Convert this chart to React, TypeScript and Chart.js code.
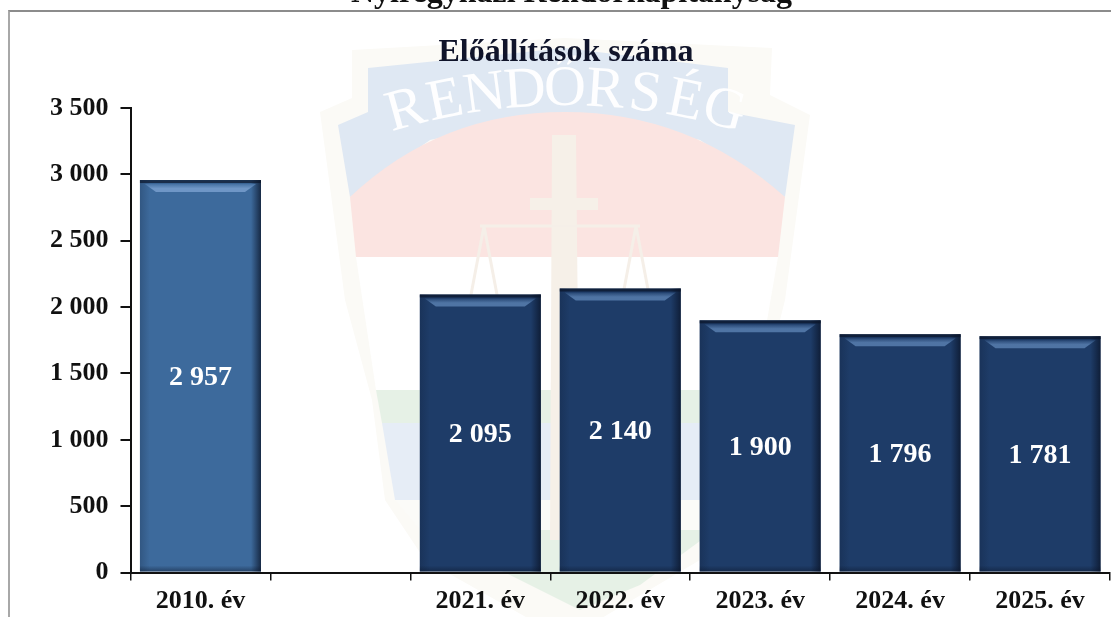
import React, { useEffect, useRef } from "react";
import { Chart, registerables } from "chart.js";

Chart.register(...registerables);

const categories = ["2010. év", "", "2021. év", "2022. év", "2023. év", "2024. év", "2025. év"];
const values: (number | null)[] = [2957, null, 2095, 2140, 1900, 1796, 1781];
const barColors = ["#3d6a9c", "", "#1e3c68", "#1e3c68", "#1e3c68", "#1e3c68", "#1e3c68"];
const barTopColors = ["#6f96c6", "", "#4f74a4", "#4f74a4", "#4f74a4", "#4f74a4", "#4f74a4"];
const chartTitle = "Előállítások száma";
const pageTitle = "Nyíregyházi Rendőrkapitányság";
const fmt = (v: number) => String(v).replace(/\B(?=(\d{3})+$)/g, " ");
const serif = "'Liberation Serif'";

const watermark = {
  id: "watermark",
  beforeDraw(chart: any) {
    const c = chart.ctx;
    c.save();
    const poly = (pts: number[][], fill: string) => {
      c.beginPath();
      pts.forEach((p, i) => (i ? c.lineTo(p[0], p[1]) : c.moveTo(p[0], p[1])));
      c.closePath();
      c.fillStyle = fill;
      c.fill();
    };
    poly([[320, 112], [352, 98], [352, 50], [565, 38], [772, 48], [770, 95], [810, 115], [785, 300], [760, 400], [740, 500], [700, 560], [590, 625], [540, 625], [425, 560], [385, 500], [372, 400], [345, 300]], "#fbfaf6");
    poly([[338, 125], [368, 112], [368, 68], [565, 48], [728, 68], [728, 112], [795, 125], [785, 197], [700, 140], [565, 112], [430, 140], [350, 197]], "#dfe8f3");
    c.beginPath();
    c.moveTo(350, 197);
    c.quadraticCurveTo(440, 112, 565, 112);
    c.quadraticCurveTo(690, 112, 785, 197);
    c.lineTo(778, 257);
    c.lineTo(356, 257);
    c.closePath();
    c.fillStyle = "#fbe4e1";
    c.fill();
    poly([[356, 257], [778, 257], [755, 390], [376, 390]], "#ffffff");
    poly([[376, 390], [755, 390], [748, 423], [382, 423]], "#e6f1e6");
    poly([[382, 423], [748, 423], [735, 500], [395, 500]], "#e6edf6");
    poly([[395, 500], [735, 500], [715, 530], [420, 530]], "#fbfbf8");
    poly([[420, 530], [715, 530], [640, 585], [580, 610], [530, 585]], "#e6f1e6");
    poly([[552, 135], [576, 135], [580, 540], [550, 540]], "#f6f0e8");
    poly([[530, 198], [598, 198], [598, 210], [530, 210]], "#f6f0e8");
    c.strokeStyle = "#f5efe8";
    c.lineWidth = 3;
    c.beginPath();
    c.moveTo(480, 226); c.lineTo(640, 226);
    c.moveTo(484, 226); c.lineTo(470, 300);
    c.moveTo(484, 226); c.lineTo(498, 300);
    c.moveTo(636, 226); c.lineTo(622, 300);
    c.moveTo(636, 226); c.lineTo(650, 300);
    c.stroke();
    c.translate(565, 690);
    c.font = "58px " + serif;
    c.fillStyle = "rgba(255,255,255,0.95)";
    c.textAlign = "center";
    c.textBaseline = "middle";
    const word = "RENDŐRSÉG";
    const R = 600;
    const step = 0.067;
    [...word].forEach((ch, i) => {
      const a = (i - (word.length - 1) / 2) * step;
      c.save();
      c.rotate(a);
      c.fillText(ch, 0, -R);
      c.restore();
    });
    c.restore();
  },
};

const bevelBars = {
  id: "bevelBars",
  afterDatasetsDraw(chart: any) {
    const c = chart.ctx;
    const meta = chart.getDatasetMeta(0);
    meta.data.forEach((bar: any, i: number) => {
      const v = values[i];
      if (v == null) return;
      const hw = bar.width / 2;
      const l = bar.x - hw, r = bar.x + hw, t = bar.y, b = bar.base;
      const inset = 10;
      c.save();
      const side = c.createLinearGradient(r - inset, 0, r, 0);
      side.addColorStop(0, "rgba(10,20,40,0)");
      side.addColorStop(1, "rgba(10,20,40,0.75)");
      c.fillStyle = side;
      c.fillRect(r - inset, t, inset, b - t);
      const lg = c.createLinearGradient(l, 0, l + inset, 0);
      lg.addColorStop(0, "rgba(10,20,40,0.22)");
      lg.addColorStop(1, "rgba(10,20,40,0)");
      c.fillStyle = lg;
      c.fillRect(l, t, inset, b - t);
      c.beginPath();
      c.moveTo(l + 5, t + 4);
      c.lineTo(r - 5, t + 4);
      c.lineTo(r - 16, t + 12);
      c.lineTo(l + 16, t + 12);
      c.closePath();
      const hi = c.createLinearGradient(0, t + 3, 0, t + 12);
      hi.addColorStop(0, barColors[i]);
      hi.addColorStop(0.6, barTopColors[i]);
      hi.addColorStop(1, barTopColors[i]);
      c.fillStyle = hi;
      c.fill();
      c.fillStyle = "rgba(10,20,40,0.7)";
      c.fillRect(l, t, r - l, 3);
      const bot = c.createLinearGradient(0, b - 6, 0, b);
      bot.addColorStop(0, "rgba(10,20,40,0)");
      bot.addColorStop(1, "rgba(10,20,40,0.45)");
      c.fillStyle = bot;
      c.fillRect(l, b - 6, r - l, 6);
      c.fillStyle = "#ffffff";
      c.font = "bold 28px " + serif;
      c.textAlign = "center";
      c.textBaseline = "middle";
      c.fillText(fmt(v), bar.x, (t + b) / 2 + 2);
      c.restore();
    });
  },
};

export default function App() {
  const ref = useRef<HTMLCanvasElement>(null);
  useEffect(() => {
    document.body.style.margin = "0";
    const chart = new Chart(ref.current as HTMLCanvasElement, {
      type: "bar",
      data: {
        labels: categories,
        datasets: [{ data: values as any, backgroundColor: barColors, barPercentage: 1, categoryPercentage: 0.865 }],
      },
      plugins: [watermark, bevelBars],
      options: {
        responsive: false,
        animation: false,
        layout: { padding: { left: 22, right: 1, top: 0, bottom: 0 } },
        plugins: {
          legend: { display: false },
          tooltip: { enabled: false },
          title: {
            display: true,
            text: chartTitle,
            color: "#10142a",
            font: { family: serif, size: 32, weight: "bold", lineHeight: 1 },
            padding: { top: 37, bottom: 39 },
          },
        },
        scales: {
          x: {
            offset: true,
            afterFit: (s: any) => { s.height = 44.5; },
            grid: { display: true, offset: true, drawOnChartArea: false, color: "#111", tickLength: 8, lineWidth: 1.5 },
            border: { display: true, color: "#111", width: 2 },
            ticks: { color: "#111", font: { family: serif, size: 26, weight: "bold" }, padding: 5, maxRotation: 0, autoSkip: false },
          },
          y: {
            min: 0,
            max: 3500,
            afterFit: (s: any) => { s.width = 108.5; },
            grid: { display: true, drawOnChartArea: false, color: "#111", tickLength: 10, lineWidth: 2 },
            border: { display: true, color: "#111", width: 2 },
            ticks: { stepSize: 500, color: "#111", font: { family: serif, size: 26, weight: "bold" }, padding: 12, callback: (v: any) => fmt(Number(v)) },
          },
        },
      } as any,
    });
    return () => chart.destroy();
  }, []);
  return (
    <div style={{ position: "relative", width: 1111, height: 617, overflow: "hidden", background: "#fff" }}>
      <canvas ref={ref} width={1111} height={617} style={{ position: "absolute", left: 0, top: 0, display: "block", filter: "blur(0.5px)" }} />
      <div style={{ position: "absolute", left: 8, top: 10, width: 1103, height: 607, borderTop: "2px solid #8c8c8c", borderLeft: "2px solid #a8a8a8", boxSizing: "border-box" }} />
      <div style={{ position: "absolute", left: 0, width: 1111, top: -25, textAlign: "center", font: "bold 32px 'Liberation Serif'", color: "#111", lineHeight: "32px", textIndent: 32 }}>{pageTitle}</div>
    </div>
  );
}
